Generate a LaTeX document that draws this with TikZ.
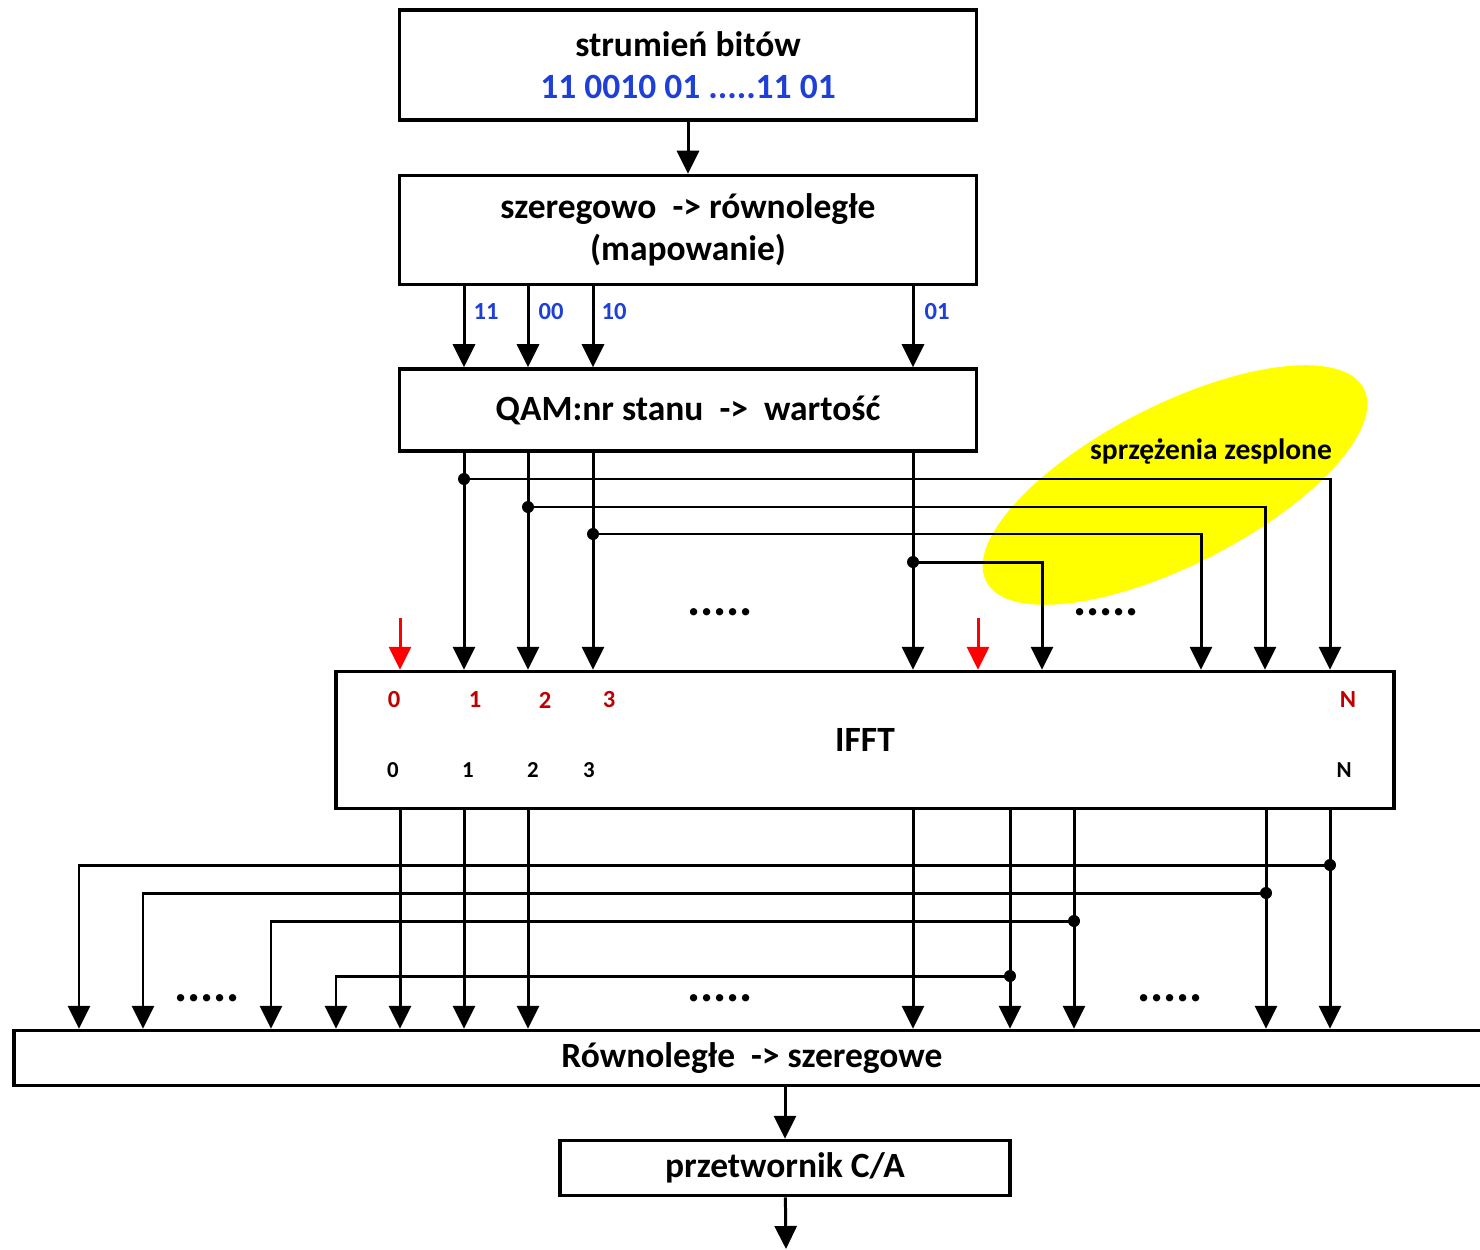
\documentclass[tikz,border=0pt]{standalone}
\usepackage{fontspec}
\setmainfont{Carlito}
\usepackage{xcolor}
\definecolor{cBits}{HTML}{1E3FD8}
\definecolor{cIdx}{HTML}{C00000}
\definecolor{cPilot}{HTML}{FF0000}
\definecolor{cZone}{HTML}{FFFF00}
\usepackage{tikz}
\usetikzlibrary{positioning,arrows.meta,calc}
\tikzset{
  node-box/.style={draw=black,line width=1pt,inner sep=0pt,align=center,
    font=\fontsize{10.1}{11.8}\selectfont\bfseries},
  node-bits/.style={font=\fontsize{7}{8}\selectfont\bfseries,text=cBits,inner sep=0pt},
  node-idx/.style={font=\fontsize{7}{8}\selectfont\bfseries,text=cIdx,inner sep=0pt},
  node-out/.style={font=\fontsize{6.5}{8}\selectfont\bfseries,inner sep=0pt},
  node-gap/.style={font=\fontsize{14}{14}\selectfont\bfseries,inner sep=0pt},
  arrow/.style={-{Triangle[length=2.3mm,width=2.2mm]},line width=0.85pt,draw=black},
  arrow-pilot/.style={arrow,draw=cPilot},
  junction/.style={circle,fill=black,inner sep=0pt,minimum size=1.2mm},
}

\begin{document}
\begin{tikzpicture}[x=0.1mm,y=-0.1mm]
  \useasboundingbox (0,0) rectangle (1480,1249);
  % strefa sprzezen
  \fill[cZone] (1175,485) ellipse[x radius=212,y radius=80,rotate=27];
  \node[font=\fontsize{8.4}{9}\selectfont\bfseries,inner sep=0pt] (zone) at (1211,452) {sprzężenia zesplone};

  % bloki
  \node[node-box,minimum width=57.7mm,minimum height=11mm] (bits) at (688,65)
    {strumień bitów\\\textcolor{cBits}{11 0010 01 .....11 01}};
  \node[node-box,minimum width=57.7mm,minimum height=10.9mm] (map) at (688,230)
    {szeregowo \ -> równoległe\\(mapowanie)};
  \node[node-box,minimum width=57.7mm,minimum height=8.2mm] (qam) at (688,410)
    {QAM:nr stanu \ -> \ wartość};
  \node[node-box,minimum width=105.8mm,minimum height=13.7mm] (ifft) at (865,740) {IFFT};
  \node[node-box,minimum width=147.6mm,minimum height=5.5mm] (ps) at (752,1058)
    {Równoległe \ -> szeregowe};
  \node[node-box,minimum width=45mm,minimum height=5.5mm] (dac) at (785,1168)
    {przetwornik C/A};
  \coordinate (out) at (786,1249);

  \draw[arrow] (bits) -- (map);
  \draw[arrow] (dac.north |- ps.south) -- (dac.north);
  \draw[arrow] (dac) -- (out);

  % kolumny gorne
  \coordinate (t1) at (464,0);
  \coordinate (t2) at (528,0);
  \coordinate (t3) at (593,0);
  \coordinate (t4) at (913,0);
  \draw[arrow] (t1 |- map.south) -- (t1 |- qam.north);
  \draw[arrow] (t2 |- map.south) -- (t2 |- qam.north);
  \draw[arrow] (t3 |- map.south) -- (t3 |- qam.north);
  \draw[arrow] (t4 |- map.south) -- (t4 |- qam.north);
  \node[node-bits] (b11) at (486,312) {11};
  \node[node-bits] (b00) at (551,312) {00};
  \node[node-bits] (b10) at (614,312) {10};
  \node[node-bits] (b01) at (937,312) {01};

  \draw[arrow] (t1 |- qam.south) -- (t1 |- ifft.north);
  \draw[arrow] (t2 |- qam.south) -- (t2 |- ifft.north);
  \draw[arrow] (t3 |- qam.south) -- (t3 |- ifft.north);
  \draw[arrow] (t4 |- qam.south) -- (t4 |- ifft.north);

  % sprzezenia zesplone (gora)
  \node[junction] (j1) at (464,479) {};
  \node[junction] (j2) at (528,507) {};
  \node[junction] (j3) at (593,534) {};
  \node[junction] (j4) at (913,562) {};
  \coordinate (k1) at (1330,0);
  \coordinate (k2) at (1265,0);
  \coordinate (k3) at (1201,0);
  \coordinate (k4) at (1042,0);
  \draw[arrow] (j1.center) -| (k1 |- ifft.north);
  \draw[arrow] (j2.center) -| (k2 |- ifft.north);
  \draw[arrow] (j3.center) -| (k3 |- ifft.north);
  \draw[arrow] (j4.center) -| (k4 |- ifft.north);

  % piloty
  \coordinate (p0) at (400,618);
  \coordinate (p1) at (978,618);
  \draw[arrow-pilot] (p0) -- (p0 |- ifft.north);
  \draw[arrow-pilot] (p1) -- (p1 |- ifft.north);
  \node[node-gap] (gap1) at (720,612) {.....};
  \node[node-gap] (gap2) at (1106,612) {.....};

  % numery wejsc / wyjsc IFFT
  \node[node-idx] (i0) at (394,700) {0};
  \node[node-idx] (i1) at (475,700) {1};
  \node[node-idx] (i2) at (545,700) {2};
  \node[node-idx] (i3) at (609,700) {3};
  \node[node-idx] (iN) at (1348,700) {N};
  \node[node-out] (o0) at (393,770) {0};
  \node[node-out] (o1) at (468,770) {1};
  \node[node-out] (o2) at (533,770) {2};
  \node[node-out] (o3) at (589,770) {3};
  \node[node-out] (oN) at (1344,770) {N};

  % kolumny dolne
  \coordinate (d1) at (400,0);
  \coordinate (d2) at (464,0);
  \coordinate (d3) at (528,0);
  \coordinate (d4) at (913,0);
  \coordinate (d5) at (1010,0);
  \coordinate (d6) at (1074,0);
  \coordinate (d7) at (1266,0);
  \coordinate (d8) at (1330,0);
  \draw[arrow] (d1 |- ifft.south) -- (d1 |- ps.north);
  \draw[arrow] (d2 |- ifft.south) -- (d2 |- ps.north);
  \draw[arrow] (d3 |- ifft.south) -- (d3 |- ps.north);
  \draw[arrow] (d4 |- ifft.south) -- (d4 |- ps.north);
  \draw[arrow] (d5 |- ifft.south) -- (d5 |- ps.north);
  \draw[arrow] (d6 |- ifft.south) -- (d6 |- ps.north);
  \draw[arrow] (d7 |- ifft.south) -- (d7 |- ps.north);
  \draw[arrow] (d8 |- ifft.south) -- (d8 |- ps.north);

  % sprzezenia zesplone (dol)
  \node[junction] (m1) at (1330,865) {};
  \node[junction] (m2) at (1266,893) {};
  \node[junction] (m3) at (1074,921) {};
  \node[junction] (m4) at (1010,976) {};
  \coordinate (e1) at (79,0);
  \coordinate (e2) at (143,0);
  \coordinate (e3) at (271,0);
  \coordinate (e4) at (336,0);
  \draw[arrow] (m1.center) -| (e1 |- ps.north);
  \draw[arrow] (m2.center) -| (e2 |- ps.north);
  \draw[arrow] (m3.center) -| (e3 |- ps.north);
  \draw[arrow] (m4.center) -| (e4 |- ps.north);
  \node[node-gap] (gap3) at (207,998) {.....};
  \node[node-gap] (gap4) at (720,998) {.....};
  \node[node-gap] (gap5) at (1170,998) {.....};
\end{tikzpicture}
\end{document}
